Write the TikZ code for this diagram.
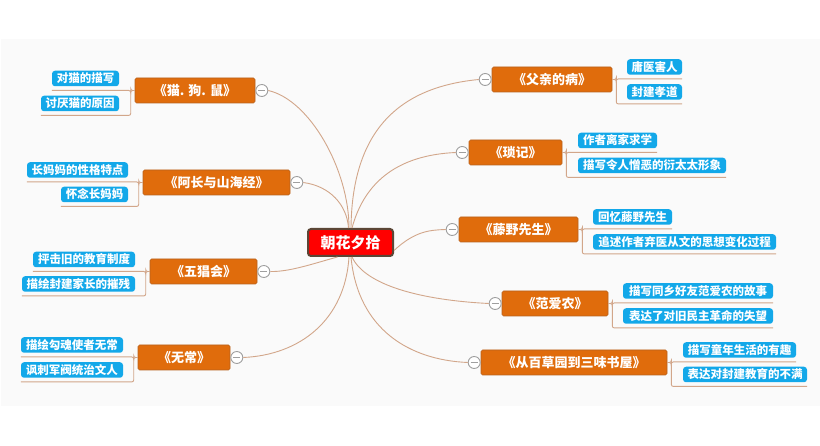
\documentclass[tikz,border=0pt]{standalone}
\usepackage{fontspec}
\setmainfont{Noto Sans CJK SC}
\definecolor{bgc}{HTML}{FAFAFA}
\definecolor{topicc}{HTML}{E06C0C}
\definecolor{topicb}{HTML}{B8621E}
\definecolor{subc}{HTML}{13A8E9}
\definecolor{linec}{HTML}{D2A68A}
\definecolor{rootb}{HTML}{5B4636}
\tikzset{
  rootnode/.style={fill=red, draw=rootb, line width=2pt, rounded corners=3pt, text=white,
    font=\fontsize{15}{18}\selectfont\bfseries, minimum width=85pt, minimum height=27pt, inner sep=1pt},
  topic/.style={fill=topicc, draw=topicb, line width=0.6pt, rounded corners=1.5pt, text=white,
    font=\fontsize{13}{16}\selectfont\bfseries, minimum height=25pt, inner xsep=2pt, inner ysep=1pt},
  subnode/.style={fill=subc, rounded corners=3pt, text=white,
    font=\fontsize{11.5}{14}\selectfont\bfseries, minimum height=15.5pt, inner xsep=2pt, inner ysep=0.5pt},
  collapse/.style={circle, draw=gray!75, fill=white, line width=0.9pt, minimum size=12pt, inner sep=0pt,
    path picture={\draw[gray!75, line width=0.9pt] ([xshift=2.5pt]path picture bounding box.west) -- ([xshift=-2.5pt]path picture bounding box.east);}},
  conn/.style={draw=linec, line width=0.9pt},
  brk/.style={draw=linec, line width=0.9pt, rounded corners=2pt}
}
\begin{document}
\begin{tikzpicture}[x=1pt, y=-1pt]
\useasboundingbox (0,0) rectangle (820,446);
\fill[white] (0,0) rectangle (820,446);
\fill[bgc] (1,39) rectangle (820,406);

% root
\node[rootnode] (root) at (350.5,242.5) {朝花夕拾};

% left topics
\node[topic, minimum width=120pt] (p1) at (195,90.5) {《猫. 狗. 鼠》};
\node[topic, minimum width=147pt] (p2) at (216.5,182.5) {《阿长与山海经》};
\node[topic, minimum width=107pt] (p3) at (203.5,271.5) {《五猖会》};
\node[topic, minimum width=92pt] (p4) at (184,357.5) {《无常》};

% right topics
\node[topic, minimum width=120pt] (q1) at (552,79.5) {《父亲的病》};
\node[topic, minimum width=93pt] (q2) at (515.5,152.5) {《琐记》};
\node[topic, minimum width=119pt] (q3) at (518.5,229.5) {《藤野先生》};
\node[topic, minimum width=106pt] (q4) at (555,303.5) {《范爱农》};
\node[topic, minimum width=186pt] (q5) at (574,362.5) {《从百草园到三味书屋》};

% collapse markers
\node[collapse] (cp1) at ([xshift=6.5pt]p1.east) {};
\node[collapse] (cp2) at ([xshift=6.5pt]p2.east) {};
\node[collapse] (cp3) at ([xshift=6.5pt]p3.east) {};
\node[collapse] (cp4) at ([xshift=6.5pt]p4.east) {};
\node[collapse] (cq1) at ([xshift=-6.5pt]q1.west) {};
\node[collapse] (cq2) at ([xshift=-6.5pt]q2.west) {};
\node[collapse] (cq3) at ([xshift=-6.5pt]q3.west) {};
\node[collapse] (cq4) at ([xshift=-6.5pt]q4.west) {};
\node[collapse] (cq5) at ([xshift=-6.5pt]q5.west) {};

% left children
\node[subnode, minimum width=67pt] (p1a) at (85.5,78.5) {对猫的描写};
\node[subnode, minimum width=78pt] (p1b) at (80,103.5) {讨厌猫的原因};
\node[subnode, minimum width=101pt] (p2a) at (77.5,170) {长妈妈的性格特点};
\node[subnode, minimum width=67pt] (p2b) at (94.5,194.5) {怀念长妈妈};
\node[subnode, minimum width=102pt] (p3a) at (84,259.5) {抨击旧的教育制度};
\node[subnode, minimum width=113pt] (p3b) at (78.5,284) {描绘封建家长的摧残};
\node[subnode, minimum width=102pt] (p4a) at (72,345) {描绘勾魂使者无常};
\node[subnode, minimum width=102pt] (p4b) at (72,370) {讽刺军阀统治文人};

% right children
\node[subnode, minimum width=55pt] (q1a) at (654.5,67) {庸医害人};
\node[subnode, minimum width=55pt] (q1b) at (654.5,92) {封建孝道};
\node[subnode, minimum width=79pt] (q2a) at (617.5,140.5) {作者离家求学};
\node[subnode, minimum width=148pt] (q2b) at (652,165.5) {描写令人憎恶的衍太太形象};
\node[subnode, minimum width=79pt] (q3a) at (632.5,217) {回忆藤野先生};
\node[subnode, minimum width=183pt] (q3b) at (684.5,242) {追述作者弃医从文的思想变化过程};
\node[subnode, minimum width=150pt] (q4a) at (698,291) {描写同乡好友范爱农的故事};
\node[subnode, minimum width=150pt] (q4b) at (698,316) {表达了对旧民主革命的失望};
\node[subnode, minimum width=113pt] (q5a) at (739.5,350) {描写童年生活的有趣};
\node[subnode, minimum width=124pt] (q5b) at (745,374.5) {表达对封建教育的不满};

% main connectors
\draw[conn] ([xshift=-1.5pt]root.north) .. controls (349,170) and (310,100) .. (cp1.east);
\draw[conn] ([xshift=-2pt]root.north) .. controls (347,205) and (330,186) .. (cp2.east);
\draw[conn] ([xshift=-13pt]root.south) .. controls (315,263) and (290,272) .. (cp3.east);
\draw[conn] ([xshift=-1.5pt]root.south) .. controls (345,320) and (300,355) .. (cp4.east);
\draw[conn] ([xshift=0.5pt]root.north) .. controls (352,140) and (390,88) .. (cq1.west);
\draw[conn] ([xshift=1.5pt]root.north) .. controls (365,180) and (400,155) .. (cq2.west);
\draw[conn] ([yshift=-8pt]root.east) .. controls (415,231) and (430,230) .. (cq3.west);
\draw[conn] ([xshift=1.5pt]root.south) .. controls (365,285) and (420,300) .. (cq4.west);
\draw[conn] ([xshift=0.5pt]root.south) .. controls (358,330) and (410,360) .. (cq5.west);

% brackets left
\foreach \p/\c in {p1/p1a,p1/p1b,p2/p2a,p2/p2b,p3/p3a,p3/p3b,p4/p4a,p4/p4b}{
  \draw[brk] (\p.west) -- ++(-4,0) |- ([yshift=-4pt]\c.south west);
}
% brackets right
\foreach \p/\c in {q1/q1a,q1/q1b,q2/q2a,q2/q2b,q3/q3a,q3/q3b,q4/q4a,q4/q4b,q5/q5a,q5/q5b}{
  \draw[brk] (\p.east) -- ++(4,0) |- ([yshift=-4pt]\c.south east);
}
\end{tikzpicture}
\end{document}
